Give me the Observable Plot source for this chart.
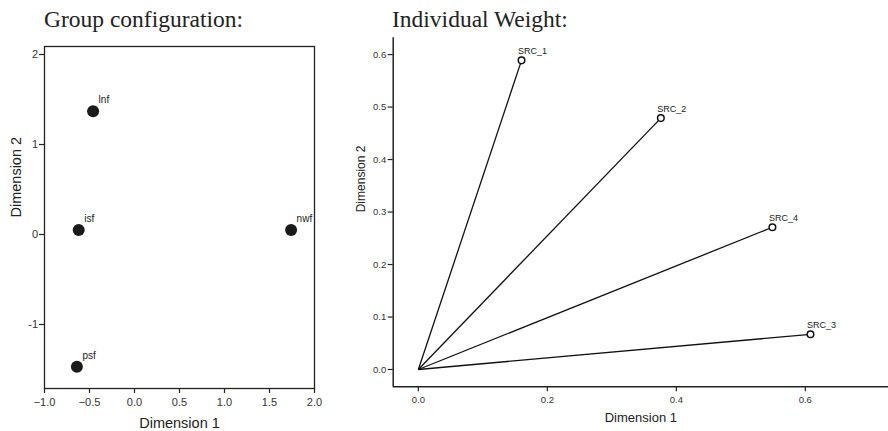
<!DOCTYPE html>
<html>
<head>
<meta charset="utf-8">
<script src="https://cdn.jsdelivr.net/npm/d3@7"></script>
<script src="https://cdn.jsdelivr.net/npm/@observablehq/plot@0.6"></script>
<style>
  html, body { margin: 0; padding: 0; background: #fff; }
  #wrap { position: relative; width: 888px; height: 431px; overflow: hidden; font-family: "Liberation Sans", Arial, sans-serif; }
  .title { position: absolute; top: 7px; font-family: "Liberation Serif", "Times New Roman", serif; font-size: 23.5px; line-height: 24px; color: #222; white-space: nowrap; }
  #left { position: absolute; left: 0; top: 35px; }
  #right { position: absolute; left: 330px; top: 35px; }
</style>
</head>
<body>
<div id="wrap">
  <div class="title" style="left:44px">Group configuration:</div>
  <div class="title" style="left:392px">Individual Weight:</div>
  <div id="left"></div>
  <div id="right"></div>
</div>
<script>
// ---- Group configuration data ----
const groupNames = ["lnf", "isf", "nwf", "psf"];
const groupDim1 = [-0.46, -0.62, 1.74, -0.64];
const groupDim2 = [1.37, 0.05, 0.05, -1.47];
const groupXTicks = [-1.0, -0.5, 0.0, 0.5, 1.0, 1.5, 2.0];
const groupYTicks = [-1, 0, 1, 2];
const groupXDomain = [-1.0, 2.0];
const groupYDomain = [-1.711, 2.089];

// ---- Individual weight data ----
const srcNames = ["SRC_1", "SRC_2", "SRC_4", "SRC_3"];
const srcDim1 = [0.160, 0.376, 0.549, 0.608];
const srcDim2 = [0.589, 0.479, 0.271, 0.067];
const origin = [0, 0];
const wXTicks = [0.0, 0.2, 0.4, 0.6];
const wYTicks = [0.0, 0.1, 0.2, 0.3, 0.4, 0.5, 0.6];
const wXDomain = [-0.039, 0.729];
const wYDomain = [-0.033, 0.632];

const axisLabel = ["Dimension 1", "Dimension 2"];

const groupData = groupNames.map((n, i) => ({name: n, x: groupDim1[i], y: groupDim2[i]}));
const srcData = srcNames.map((n, i) => ({name: n, x: srcDim1[i], y: srcDim2[i], x0: origin[0], y0: origin[1]}));
const fmt1 = d3.format(".1f");

const left = Plot.plot({
  width: 330, height: 396,
  marginLeft: 44, marginRight: 16, marginTop: 11, marginBottom: 43,
  style: {fontFamily: "Liberation Sans, Arial, sans-serif", background: "transparent", overflow: "visible"},
  x: {domain: groupXDomain},
  y: {domain: groupYDomain},
  marks: [
    Plot.frame({stroke: "#222", strokeWidth: 1.3}),
    Plot.axisX({ticks: groupXTicks, tickFormat: fmt1, tickSize: 5, tickPadding: 5, fontSize: 11, label: null, color: "#333", stroke: "#222", strokeWidth: 1.2}),
    Plot.axisY({ticks: groupYTicks, tickFormat: d => d3.format("d")(d).replace("−", "-"), tickSize: 5, tickPadding: 1.5, fontSize: 11, label: null, color: "#333", stroke: "#222", strokeWidth: 1.2}),
    Plot.dot(groupData, {x: "x", y: "y", r: 6, fill: "#1a1a1a", stroke: "none"}),
    Plot.text(groupData, {x: "x", y: "y", text: "name", textAnchor: "start", dx: 5.5, dy: -11.5, fontSize: 10, fill: "#222"}),
    Plot.text([axisLabel[0]], {frameAnchor: "bottom", lineAnchor: "middle", text: d => d, dy: 34.5, fontSize: 14.5, fill: "#222"}),
    Plot.text([axisLabel[1]], {frameAnchor: "left", lineAnchor: "middle", text: d => d, dx: -28, rotate: -90, fontSize: 14.5, fill: "#222"})
  ]
});
document.getElementById("left").appendChild(left);

const right = Plot.plot({
  width: 558, height: 396,
  marginLeft: 62.7, marginRight: 0, marginTop: 2.3, marginBottom: 44.7,
  style: {fontFamily: "Liberation Sans, Arial, sans-serif", background: "transparent", overflow: "visible"},
  x: {domain: wXDomain},
  y: {domain: wYDomain},
  marks: [
    Plot.ruleX([wXDomain[0]], {stroke: "#222", strokeWidth: 1.5}),
    Plot.ruleY([wYDomain[0]], {stroke: "#222", strokeWidth: 1.5}),
    Plot.axisX({ticks: wXTicks, tickFormat: fmt1, tickSize: 5, tickPadding: 4, fontSize: 9.5, label: null, color: "#333", stroke: "#222", strokeWidth: 1.2}),
    Plot.axisY({ticks: wYTicks, tickFormat: fmt1, tickSize: 5, tickPadding: 2, fontSize: 9.5, label: null, color: "#333", stroke: "#222", strokeWidth: 1.2}),
    Plot.link(srcData, {x1: "x0", y1: "y0", x2: "x", y2: "y", stroke: "#111", strokeWidth: 1.3}),
    Plot.dot(srcData, {x: "x", y: "y", r: 3.3, fill: "white", stroke: "#111", strokeWidth: 1.5}),
    Plot.text(srcData, {x: "x", y: "y", text: "name", textAnchor: "start", dx: -3.5, dy: -9.2, fontSize: 9, fill: "#222"}),
    Plot.text([axisLabel[0]], {frameAnchor: "bottom", lineAnchor: "middle", text: d => d, dy: 31, fontSize: 13, fill: "#222"}),
    Plot.text([axisLabel[1]], {frameAnchor: "left", lineAnchor: "middle", text: d => d, dx: -31.7, rotate: -90, fontSize: 12, fill: "#222"})
  ]
});
document.getElementById("right").appendChild(right);
</script>
</body>
</html>
